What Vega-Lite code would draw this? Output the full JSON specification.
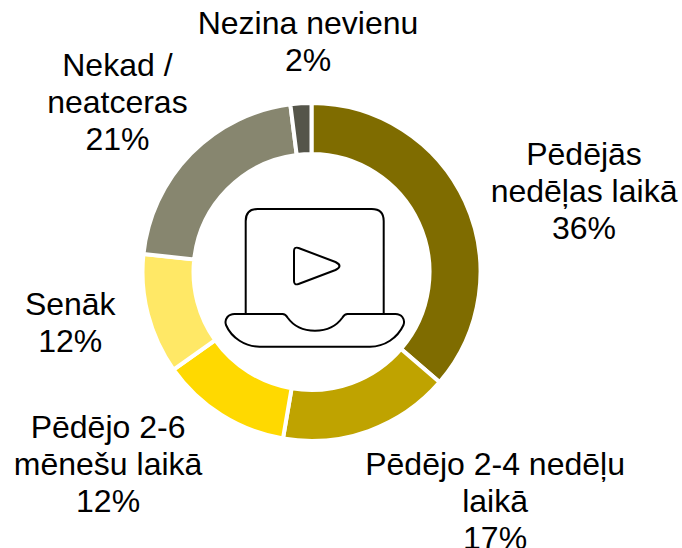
{"$schema":"https://vega.github.io/schema/vega-lite/v6.json","width":623,"height":544,"autosize":"none","padding":{"left":0,"top":0,"right":59,"bottom":4},"background":"white","config":{"view":{"stroke":null},"text":{"font":"Liberation Sans","fontSize":32,"lineBreak":"\n","lineHeight":37,"align":"center","baseline":"middle","color":"#000000"}},"data":{"values":[{"order":1,"label":"Pēdējās\nnedēļas laikā\n36%","pct":36.3},{"order":2,"label":"Pēdējo 2-4 nedēļu\nlaikā\n17%","pct":16.4},{"order":3,"label":"Pēdējo 2-6\nmēnešu laikā\n12%","pct":12.5},{"order":4,"label":"Senāk\n12%","pct":11.5},{"order":5,"label":"Nekad /\nneatceras\n21%","pct":21.3},{"order":6,"label":"Nezina nevienu\n2%","pct":2}]},"transform":[{"stack":"pct","groupby":[],"sort":[{"field":"order"}],"as":["a0","a1"]},{"calculate":"(datum.a0+datum.a1)/2","as":"mid"}],"layer":[{"mark":{"type":"arc","innerRadius":118,"outerRadius":169,"stroke":"white","strokeWidth":4},"encoding":{"theta":{"field":"a0","type":"quantitative","scale":{"domain":[0,100]},"stack":null},"theta2":{"field":"a1"},"color":{"field":"order","type":"ordinal","legend":null,"scale":{"domain":[1,2,3,4,5,6],"range":["#7F6C00","#BFA300","#FFD900","#FFE866","#87866F","#55554A"]}}}},{"transform":[{"filter":"datum.order==1"}],"mark":{"type":"text","radius":281.5,"dx":16.7,"dy":0.4},"encoding":{"theta":{"field":"mid","type":"quantitative","stack":null},"text":{"field":"label"}}},{"transform":[{"filter":"datum.order==2"}],"mark":{"type":"text","radius":278,"dx":89.4,"dy":-69},"encoding":{"theta":{"field":"mid","type":"quantitative","stack":null},"text":{"field":"label"}}},{"transform":[{"filter":"datum.order==3"}],"mark":{"type":"text","radius":270.9,"dx":-59,"dy":-73.6},"encoding":{"theta":{"field":"mid","type":"quantitative","stack":null},"text":{"field":"label"}}},{"transform":[{"filter":"datum.order==4"}],"mark":{"type":"text","radius":221.8,"dx":-26.6,"dy":-23.2},"encoding":{"theta":{"field":"mid","type":"quantitative","stack":null},"text":{"field":"label"}}},{"transform":[{"filter":"datum.order==5"}],"mark":{"type":"text","radius":248,"dx":-17.1,"dy":-32.6},"encoding":{"theta":{"field":"mid","type":"quantitative","stack":null},"text":{"field":"label"}}},{"transform":[{"filter":"datum.order==6"}],"mark":{"type":"text","radius":230.7,"dx":11,"dy":-17.8},"encoding":{"theta":{"field":"mid","type":"quantitative","stack":null},"text":{"field":"label"}}},{"transform":[{"filter":"datum.order==1"}],"mark":{"type":"point","filled":false,"opacity":1,"size":4,"stroke":"#000000","strokeWidth":2,"strokeJoin":"round","shape":"M -65.8 42 V -51 Q -65.8 -63 -53.8 -63 H 60.2 Q 72.2 -63 72.2 -51 V 42 M -77 42 H -29 Q -26 42 -24 45.5 C -18 54 -8 58.7 3.5 58.7 C 15 58.7 25 54 31 45.5 Q 33 42 36 42 H 84 C 90 42 94 47 92 53 C 86 66 73 74.7 58.5 74.7 H -52 C -66 74.7 -80 66 -85.5 53 C -87.5 47 -83 42 -77 42 Z M -17.5 -21 Q -17.5 -25.5 -13 -24 L 24 -10 Q 28 -8 28 -6 Q 28 -4 24 -2 L -13 12 Q -17.5 13.5 -17.5 9 Z"},"encoding":{}}]}
